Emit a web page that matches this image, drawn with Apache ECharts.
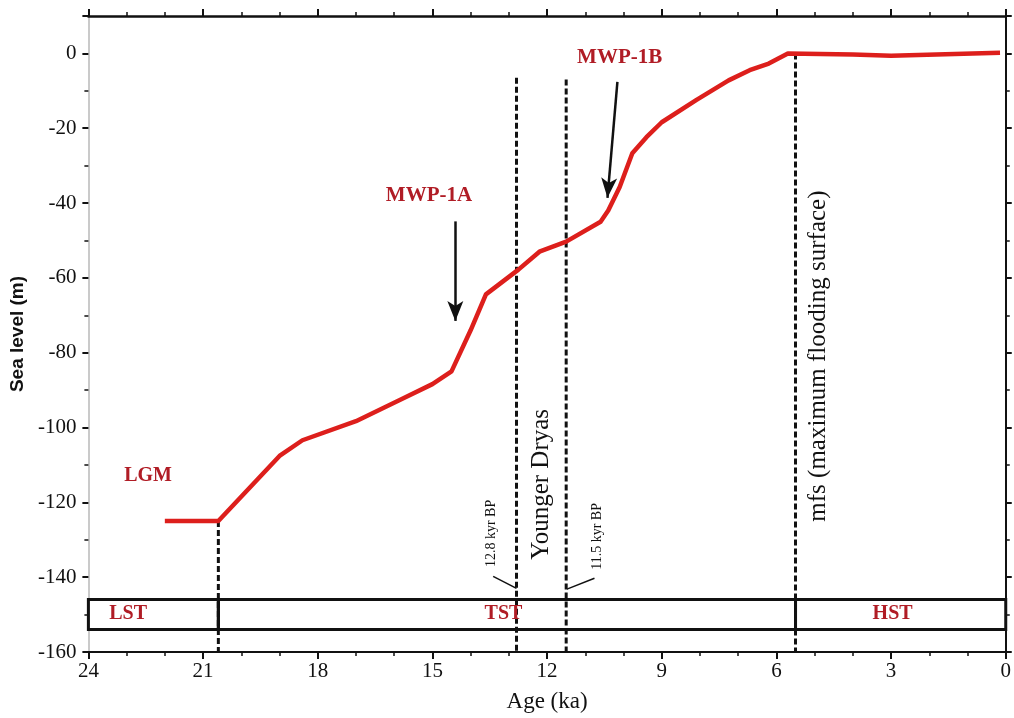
<!DOCTYPE html>
<html><head><meta charset="utf-8">
<script src="https://cdn.jsdelivr.net/npm/echarts@6/dist/echarts.min.js"></script>
<style>html,body{margin:0;padding:0;background:#fff}#c{width:1014px;height:718px}</style>
</head><body><div id="c"></div>
<script>
// Sea-level curve (age ka, sea level m)
const seaAge = [22.0,20.6,19.0,18.4,17.0,15.8,15.0,14.5,14.0,13.6,12.75,12.2,11.5,10.6,10.4,10.1,9.77,9.4,9.0,8.1,7.25,6.7,6.2,5.7,4.0,3.0,1.1,0.15];
const seaLevel = [-125,-125,-107.6,-103.4,-98.3,-92.4,-88.4,-85,-74,-64.4,-57.8,-53,-50.3,-45,-42,-35.7,-26.7,-22.4,-18.4,-12.5,-7.2,-4.5,-2.7,0,-0.3,-0.6,-0.1,0.2];
// Dashed boundary lines: age, top value
const boundaryAge = [20.6, 12.8, 11.5, 5.5];
const boundaryTop = [-125, -6.5, -7, 0];
// Systems-tract box
const tractNames = ['LST','TST','HST'];
const tractStart = [24, 20.6, 5.5];
const tractEnd = [20.6, 5.5, 0];
const tractLabelAge = [22.96, 13.14, 2.96];
const boxTop = -146, boxBottom = -154, boxLabelY = -149.8;
// Red annotation labels
const redLabels = ['LGM','MWP-1A','MWP-1B'];
const redLabelAge = [22.44, 15.09, 10.1];
const redLabelVal = [-112.8, -38, -1.2];
// Arrows [startAge, startVal, endAge, endVal]
const arrows = [[14.4,-44.9,14.4,-71.5],[10.16,-7.6,10.42,-38.6]];
// Vertical texts
const vertTexts = ['Younger Dryas','mfs (maximum flooding surface)'];
const vertAge = [12.16, 4.91];
const vertVal = [-115.2, -80.9];
const smallTexts = ['12.8 kyr BP','11.5 kyr BP'];
const smallAge = [13.45, 10.68];
const smallVal = [-128.3, -129.1];
const leaders = [[13.41,-139.8,12.8,-143],[10.76,-140.3,11.48,-143.2]];

const RED = '#dd1f1c', LRED = '#b01c25', INK = '#111';
const series = [];
series.push({type:'line', data: seaAge.map((a,i)=>[a,seaLevel[i]]), symbol:'none',
  lineStyle:{color:RED,width:4.5,join:'round'}, z:5});
boundaryAge.forEach((a,i)=>{
  series.push({type:'line', data:[[a,boundaryTop[i]],[a,-160]], symbol:'none',
    lineStyle:{color:INK,width:3,type:[6,3]}, z:3});
});
series.push({type:'line', data:[], markArea:{silent:true,
  itemStyle:{color:'rgba(0,0,0,0)',borderColor:INK,borderWidth:3},
  data: tractNames.map((n,i)=>[{coord:[tractStart[i],boxTop]},{coord:[tractEnd[i],boxBottom]}])}, z:4});
const lab = (txt,a,v,opt)=>({value:[a,v], label:Object.assign({show:true,position:'inside',formatter:txt},opt)});
const redFont = {fontFamily:'Liberation Serif',fontWeight:'bold',color:LRED};
const pts = [];
tractNames.forEach((n,i)=>pts.push(lab(n,tractLabelAge[i],boxLabelY,Object.assign({fontSize:20},redFont))));
redLabels.forEach((n,i)=>pts.push(lab(n,redLabelAge[i],redLabelVal[i],Object.assign({fontSize:i===0?20:21},redFont))));
vertTexts.forEach((n,i)=>pts.push(lab(n,vertAge[i],vertVal[i],{fontSize:i===0?25:25,fontFamily:'Liberation Serif',color:INK,rotate:90})));
smallTexts.forEach((n,i)=>pts.push(lab(n,smallAge[i],smallVal[i],{fontSize:14,fontFamily:'Liberation Serif',color:INK,rotate:90})));
series.push({type:'scatter', symbolSize:0, data:pts, z:6, silent:true, itemStyle:{opacity:1}, label:{opacity:1}});
series.push({type:'line', data:[], markLine:{silent:true, symbol:['none','arrow'], symbolSize:[12,20],
  label:{show:false}, lineStyle:{color:INK,width:2.5,type:'solid',opacity:1},
  data: arrows.map(r=>[{coord:[r[0],r[1]]},{coord:[r[2],r[3]]}])}});
leaders.forEach(l=>series.push({type:'line', data:[[l[0],l[1]],[l[2],l[3]]], symbol:'none', lineStyle:{color:INK,width:1.5}}));

const serif = 'Liberation Serif';
const xBase = {type:'value', min:0, max:24, interval:3, inverse:true,
  axisLine:{onZero:false,lineStyle:{color:INK,width:2}}, splitLine:{show:false},
  axisTick:{inside:false,length:7,lineStyle:{color:INK,width:2}},
  minorTick:{show:true,splitNumber:3,length:4,lineStyle:{color:INK,width:1.5}}};
const yBase = {type:'value', min:-160, max:10, interval:20, splitLine:{show:false},
  axisTick:{inside:false,length:6,lineStyle:{color:INK,width:2}},
  minorTick:{show:true,splitNumber:2,length:4,lineStyle:{color:INK,width:1.5}}};
const chart = echarts.init(document.getElementById('c'));
chart.setOption({
  animation:false, backgroundColor:'#fff',
  grid:{left:85,right:4,top:16,bottom:64,containLabel:false},
  xAxis:[
    Object.assign({}, xBase, {position:'bottom', name:'Age (ka)', nameLocation:'middle', nameGap:38,
      nameTextStyle:{fontFamily:serif,fontSize:23,color:INK},
      axisLabel:{fontFamily:serif,fontSize:21,color:INK,margin:9}}),
    Object.assign({}, xBase, {position:'top', axisLabel:{show:false}, axisLine:{onZero:false,lineStyle:{color:INK,width:2.5}}})
  ],
  yAxis:[
    Object.assign({}, yBase, {position:'left', name:'Sea level (m)', nameLocation:'middle', nameGap:58, nameRotate:90,
      nameTextStyle:{fontFamily:'Liberation Sans',fontWeight:'bold',fontSize:19,color:INK},
      axisLine:{onZero:false,lineStyle:{color:'#b8b8b8',width:1.5}},
      axisLabel:{fontFamily:serif,fontSize:21,color:INK,margin:12,showMaxLabel:false}}),
    Object.assign({}, yBase, {position:'right', axisLabel:{show:false}, axisLine:{onZero:false,lineStyle:{color:INK,width:2}}})
  ],
  series: series
});
</script></body></html>
